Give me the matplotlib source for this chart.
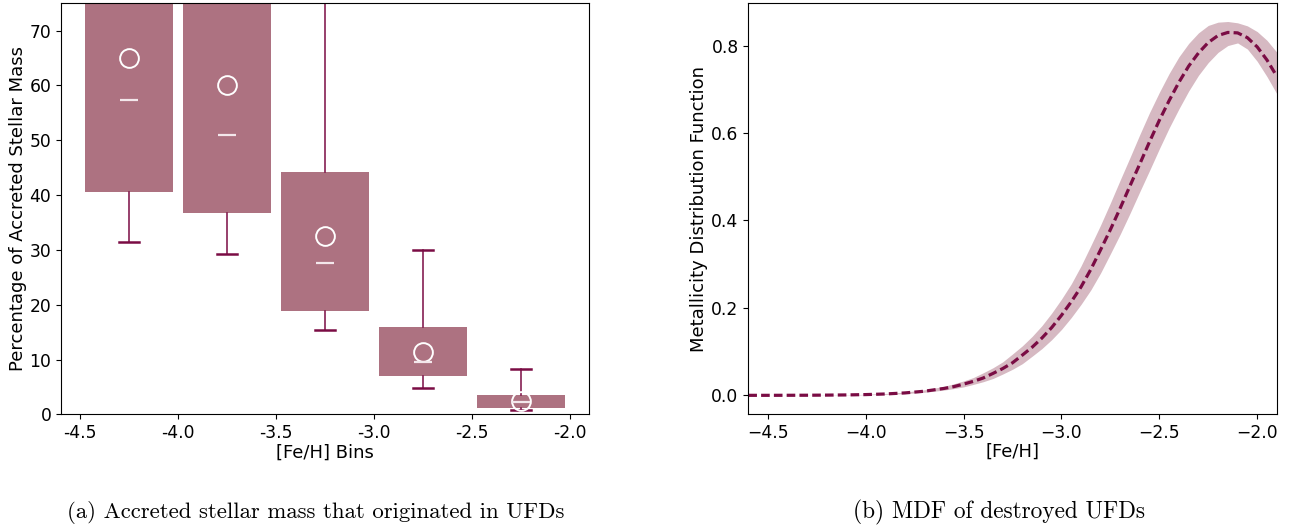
import matplotlib
matplotlib.use("Agg")
import matplotlib.pyplot as plt

# ---------------- data: panel (a) ----------------
bin_centers = [-4.25, -3.75, -3.25, -2.75, -2.25]
q1 = [40.5, 36.7, 18.8, 7.0, 1.1]
q3 = [80.0, 80.0, 44.3, 16.0, 3.55]
medians = [57.3, 51.0, 27.7, 9.5, 2.2]
means = [65.0, 60.0, 32.5, 11.4, 2.5]
whisk_lo = [31.4, 29.2, 15.3, 4.8, 0.7]
whisk_hi = [95.0, 95.0, 90.0, 30.0, 8.3]
xticks_a = [-4.5, -4.0, -3.5, -3.0, -2.5, -2.0]
xticklabels_a = ["-4.5", "-4.0", "-3.5", "-3.0", "-2.5", "-2.0"]
yticks_a = [0, 10, 20, 30, 40, 50, 60, 70]

# ---------------- data: panel (b) ----------------
feh = [-4.6, -4.5, -4.4, -4.3, -4.2, -4.1, -4.0, -3.9, -3.8, -3.7,
       -3.6, -3.55, -3.5, -3.45, -3.4, -3.35, -3.3, -3.25, -3.2, -3.15,
       -3.1, -3.05, -3.0, -2.95, -2.9, -2.85, -2.8, -2.75, -2.7, -2.65,
       -2.6, -2.55, -2.5, -2.45, -2.4, -2.35, -2.3, -2.25, -2.2, -2.15,
       -2.1, -2.05, -2.0, -1.95, -1.9]
mdf_mean = [0.0, 0.0, 0.0001, 0.0002, 0.0005, 0.0009, 0.0017, 0.0031, 0.0055, 0.0094,
            0.0158, 0.0199, 0.0257, 0.0320, 0.0396, 0.0501, 0.0613, 0.0745, 0.092, 0.110,
            0.131, 0.155, 0.183, 0.214, 0.248, 0.288, 0.333, 0.379, 0.428, 0.479,
            0.529, 0.580, 0.629, 0.674, 0.716, 0.753, 0.783, 0.807, 0.823, 0.830,
            0.829, 0.818, 0.797, 0.767, 0.730]
mdf_upper = [0.0, 0.0, 0.0001, 0.0003, 0.0007, 0.0012, 0.0024, 0.0042, 0.0074, 0.0126,
             0.0205, 0.0264, 0.0329, 0.0407, 0.0515, 0.0630, 0.0766, 0.0946, 0.1131, 0.1347,
             0.1593, 0.1881, 0.2200, 0.2549, 0.2961, 0.3423, 0.3896, 0.4400, 0.4924, 0.5438,
             0.5962, 0.6466, 0.6929, 0.7360, 0.7741, 0.8049, 0.8290, 0.8460, 0.8535, 0.8550,
             0.8520, 0.8450, 0.8320, 0.8120, 0.7850]
mdf_lower = [0.0, 0.0, 0.0, 0.0001, 0.0003, 0.0007, 0.0012, 0.0022, 0.0040, 0.0070,
             0.0120, 0.0154, 0.0193, 0.0250, 0.0311, 0.0385, 0.0487, 0.0596, 0.0724, 0.0894,
             0.1069, 0.1273, 0.1507, 0.1779, 0.2080, 0.2411, 0.2799, 0.3237, 0.3684, 0.4160,
             0.4656, 0.5142, 0.5638, 0.6114, 0.6551, 0.6960, 0.7319, 0.7611, 0.7844, 0.8000,
             0.8060, 0.7920, 0.7640, 0.7290, 0.6900]
xticks_b = [-4.5, -4.0, -3.5, -3.0, -2.5, -2.0]
yticks_b = [0.0, 0.2, 0.4, 0.6, 0.8]

# ---------------- style ----------------
BOX_FACE = "#AD7281"
DARK = "#7A0C44"
BAND = "#D6B9C2"
MED_COL = "#F3E7EB"
TICK_FS = 12.3
LAB_FS = 13

fig = plt.figure(figsize=(12.92, 5.29), dpi=100)
axa = fig.add_axes([0.0472, 0.2168, 0.4089, 0.777])
axb = fig.add_axes([0.5792, 0.2174, 0.4090, 0.7764])

# ---------- panel (a) ----------
stats = []
for i in range(len(bin_centers)):
    stats.append(dict(q1=q1[i], q3=q3[i], med=medians[i], mean=means[i],
                      whislo=whisk_lo[i], whishi=whisk_hi[i], fliers=[]))
axa.bxp(stats, positions=bin_centers, widths=0.45, patch_artist=True,
        showmeans=True, meanline=False, showfliers=False, capwidths=0.1,
        boxprops=dict(facecolor=BOX_FACE, edgecolor="none", linewidth=0),
        whiskerprops=dict(color=DARK, linewidth=1.1),
        capprops=dict(color=DARK, linewidth=1.8),
        medianprops=dict(visible=False),
        meanprops=dict(marker="o", markerfacecolor="none", markeredgecolor="white",
                       markersize=13.5, markeredgewidth=1.4),
        manage_ticks=False)
axa.plot(bin_centers, medians, linestyle="none", marker="_", markersize=13.5,
         markeredgewidth=1.6, color=MED_COL, zorder=5)
axa.set_xlim(-4.5975, -1.9025)
axa.set_ylim(0, 75)
axa.set_xticks(xticks_a)
axa.set_xticklabels(xticklabels_a)
axa.set_yticks(yticks_a)
axa.tick_params(labelsize=TICK_FS)
axa.set_xlabel("[Fe/H] Bins", fontsize=LAB_FS, labelpad=1)
axa.set_ylabel("Percentage of Accreted Stellar Mass", fontsize=LAB_FS, labelpad=1.5)

# ---------- panel (b) ----------
axb.fill_between(feh, mdf_lower, mdf_upper, color=BAND, linewidth=0)
axb.plot(feh, mdf_mean, color=DARK, linewidth=2.3, linestyle=(0, (2.7, 1.3)))
axb.set_xlim(-4.6, -1.9)
axb.set_ylim(-0.0427, 0.8967)
axb.set_xticks(xticks_b)
axb.set_yticks(yticks_b)
axb.tick_params(labelsize=TICK_FS)
axb.set_xlabel("[Fe/H]", fontsize=LAB_FS, labelpad=1)
axb.set_ylabel("Metallicity Distribution Function", fontsize=LAB_FS, labelpad=2)

# ---------- captions ----------
fig.text(0.2446, 0.032, "(a) Accreted stellar mass that originated in UFDs",
         family="cmr10", fontsize=16.4, ha="center", va="center")
fig.text(0.773, 0.032, "(b) MDF of destroyed UFDs",
         family="cmr10", fontsize=16.8, ha="center", va="center")

fig.savefig("out.png", dpi=100)
